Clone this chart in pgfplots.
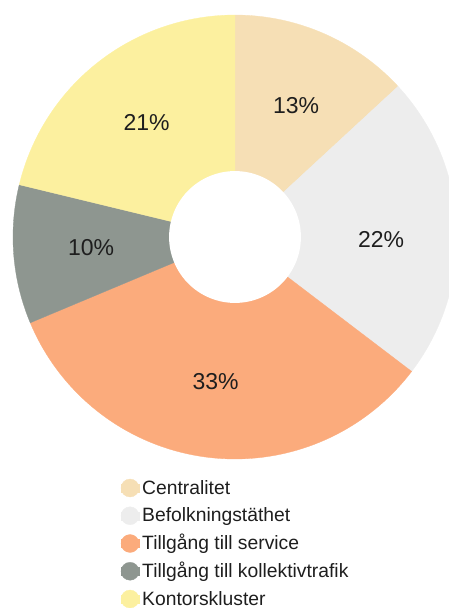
\documentclass[border=0pt]{standalone}
\usepackage{fontspec}
\setmainfont{Liberation Sans}
\usepackage{pgfplots}
\pgfplotsset{compat=1.18}
\usepgfplotslibrary{polar}
\definecolor{cCen}{HTML}{F6DFB5}
\definecolor{cBef}{HTML}{EDEDED}
\definecolor{cSer}{HTML}{FBAB7C}
\definecolor{cKol}{HTML}{8E9690}
\definecolor{cKon}{HTML}{FCF09F}
\definecolor{txt}{HTML}{1E1E1E}
\begin{document}
\begin{tikzpicture}
\path[use as bounding box] (0,0) rectangle (449bp,608bp);
% shares (per cent) in clockwise order from 12 o'clock
\pgfmathsetmacro{\vA}{13}
\pgfmathsetmacro{\vB}{22}
\pgfmathsetmacro{\vC}{33}
\pgfmathsetmacro{\vD}{10}
\pgfmathsetmacro{\vE}{21}
\pgfmathsetmacro{\tot}{\vA+\vB+\vC+\vD+\vE}
\pgfmathsetmacro{\aA}{90}
\pgfmathsetmacro{\aB}{\aA-\vA/\tot*360}
\pgfmathsetmacro{\aC}{\aB-\vB/\tot*360}
\pgfmathsetmacro{\aD}{\aC-\vC/\tot*360}
\pgfmathsetmacro{\aE}{\aD-\vD/\tot*360}
\pgfmathsetmacro{\aF}{\aE-\vE/\tot*360}
\begin{polaraxis}[
  at={(235bp,371bp)}, anchor=origin,
  scale only axis, width=444bp, height=444bp,
  ymin=0, ymax=1, hide axis, clip=false,
  legend image code/.code={\path (0bp,-4bp) rectangle (18bp,4bp); \fill[#1, overlay] (9bp,0bp) circle (9bp);},
  legend cell align=left,
  legend style={draw=none, fill=none,
    at={(axis description cs:0.243,-0.0473)}, anchor=north west,
    inner sep=0pt, outer sep=0pt, row sep=11.75bp,
    font=\fontsize{19.3bp}{23bp}\selectfont, text=txt,
    nodes={text height=14bp, text depth=2bp, inner sep=0pt},
    /tikz/every odd column/.append style={column sep=3bp}},
]
\addplot[fill=cCen, draw=cCen, line width=0.3bp, domain=\aB:\aA, samples=60] {1} -- (axis cs:0,0) -- cycle;
\addlegendentry{Centralitet}
\addplot[fill=cBef, draw=cBef, line width=0.3bp, domain=\aC:\aB, samples=60] {1} -- (axis cs:0,0) -- cycle;
\addlegendentry{Befolkningstäthet}
\addplot[fill=cSer, draw=cSer, line width=0.3bp, domain=\aD:\aC, samples=80] {1} -- (axis cs:0,0) -- cycle;
\addlegendentry{Tillgång till service}
\addplot[fill=cKol, draw=cKol, line width=0.3bp, domain=\aE:\aD, samples=40] {1} -- (axis cs:0,0) -- cycle;
\addlegendentry{Tillgång till kollektivtrafik}
\addplot[fill=cKon, draw=cKon, line width=0.3bp, domain=\aF:\aE, samples=60] {1} -- (axis cs:0,0) -- cycle;
\addlegendentry{Kontorskluster}
\addplot[fill=white, draw=none, domain=0:360, samples=120, forget plot] {0.297} -- cycle;
\begin{scope}[every node/.style={font=\fontsize{23bp}{27bp}\selectfont, text=txt}]
\node at (axis cs:65.0,0.651) {13\%};
\node at (axis cs:-0.8,0.658) {22\%};
\node at (axis cs:-97.7,0.655) {33\%};
\node at (axis cs:184.4,0.650) {10\%};
\node at (axis cs:127.8,0.650) {21\%};
\end{scope}
\end{polaraxis}
\end{tikzpicture}
\end{document}
